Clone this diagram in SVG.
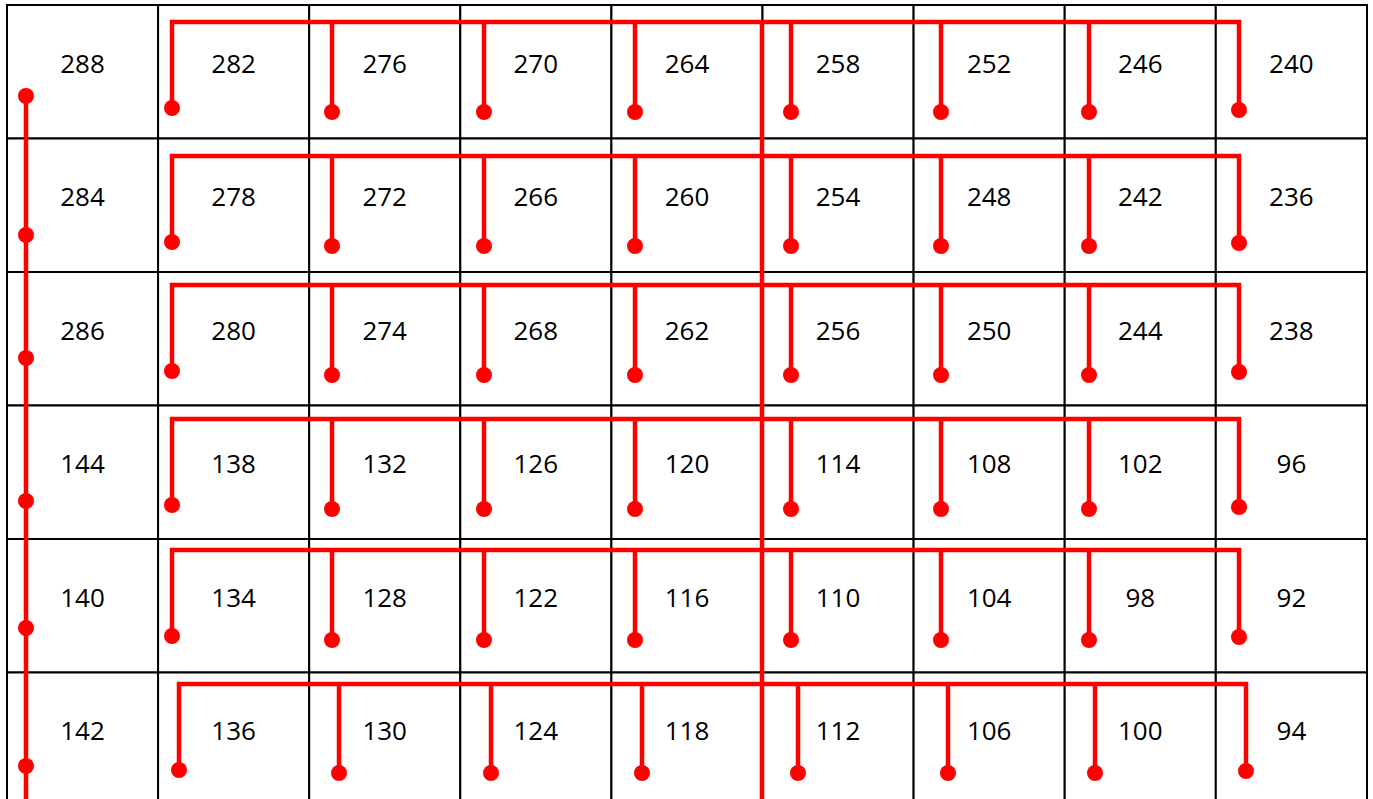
<svg xmlns="http://www.w3.org/2000/svg" width="1373" height="799" viewBox="0 0 1373 799">
<style>
.cell rect{fill:#fff;stroke:#000;stroke-width:2}
.cell text{font-family:"Open Sans","Liberation Sans",sans-serif;font-size:26px;fill:#000;text-anchor:middle}
.wire{fill:none;stroke:#ff0000;stroke-width:4.5;stroke-linejoin:miter}
.dot{fill:#ff0000}
</style>
<rect width="1373" height="799" fill="#fff"/>
<g id="grid">
<g id="c288" class="cell"><rect x="7" y="5" width="151.1" height="133.5"/><text x="82.5" y="72.5">288</text></g>
<g id="c282" class="cell"><rect x="158.1" y="5" width="151.1" height="133.5"/><text x="233.6" y="72.5">282</text></g>
<g id="c276" class="cell"><rect x="309.2" y="5" width="151.1" height="133.5"/><text x="384.7" y="72.5">276</text></g>
<g id="c270" class="cell"><rect x="460.3" y="5" width="151.1" height="133.5"/><text x="535.8" y="72.5">270</text></g>
<g id="c264" class="cell"><rect x="611.4" y="5" width="151.1" height="133.5"/><text x="687" y="72.5">264</text></g>
<g id="c258" class="cell"><rect x="762.5" y="5" width="151.1" height="133.5"/><text x="838" y="72.5">258</text></g>
<g id="c252" class="cell"><rect x="913.6" y="5" width="151.1" height="133.5"/><text x="989.2" y="72.5">252</text></g>
<g id="c246" class="cell"><rect x="1064.7" y="5" width="151.1" height="133.5"/><text x="1140.3" y="72.5">246</text></g>
<g id="c240" class="cell"><rect x="1215.8" y="5" width="151.2" height="133.5"/><text x="1291.4" y="72.5">240</text></g>

<g id="c284" class="cell"><rect x="7" y="138.5" width="151.1" height="133.5"/><text x="82.5" y="206">284</text></g>
<g id="c278" class="cell"><rect x="158.1" y="138.5" width="151.1" height="133.5"/><text x="233.6" y="206">278</text></g>
<g id="c272" class="cell"><rect x="309.2" y="138.5" width="151.1" height="133.5"/><text x="384.7" y="206">272</text></g>
<g id="c266" class="cell"><rect x="460.3" y="138.5" width="151.1" height="133.5"/><text x="535.8" y="206">266</text></g>
<g id="c260" class="cell"><rect x="611.4" y="138.5" width="151.1" height="133.5"/><text x="687" y="206">260</text></g>
<g id="c254" class="cell"><rect x="762.5" y="138.5" width="151.1" height="133.5"/><text x="838" y="206">254</text></g>
<g id="c248" class="cell"><rect x="913.6" y="138.5" width="151.1" height="133.5"/><text x="989.2" y="206">248</text></g>
<g id="c242" class="cell"><rect x="1064.7" y="138.5" width="151.1" height="133.5"/><text x="1140.3" y="206">242</text></g>
<g id="c236" class="cell"><rect x="1215.8" y="138.5" width="151.2" height="133.5"/><text x="1291.4" y="206">236</text></g>

<g id="c286" class="cell"><rect x="7" y="272" width="151.1" height="133.5"/><text x="82.5" y="339.5">286</text></g>
<g id="c280" class="cell"><rect x="158.1" y="272" width="151.1" height="133.5"/><text x="233.6" y="339.5">280</text></g>
<g id="c274" class="cell"><rect x="309.2" y="272" width="151.1" height="133.5"/><text x="384.7" y="339.5">274</text></g>
<g id="c268" class="cell"><rect x="460.3" y="272" width="151.1" height="133.5"/><text x="535.8" y="339.5">268</text></g>
<g id="c262" class="cell"><rect x="611.4" y="272" width="151.1" height="133.5"/><text x="687" y="339.5">262</text></g>
<g id="c256" class="cell"><rect x="762.5" y="272" width="151.1" height="133.5"/><text x="838" y="339.5">256</text></g>
<g id="c250" class="cell"><rect x="913.6" y="272" width="151.1" height="133.5"/><text x="989.2" y="339.5">250</text></g>
<g id="c244" class="cell"><rect x="1064.7" y="272" width="151.1" height="133.5"/><text x="1140.3" y="339.5">244</text></g>
<g id="c238" class="cell"><rect x="1215.8" y="272" width="151.2" height="133.5"/><text x="1291.4" y="339.5">238</text></g>

<g id="c144" class="cell"><rect x="7" y="405.5" width="151.1" height="133.5"/><text x="82.5" y="473">144</text></g>
<g id="c138" class="cell"><rect x="158.1" y="405.5" width="151.1" height="133.5"/><text x="233.6" y="473">138</text></g>
<g id="c132" class="cell"><rect x="309.2" y="405.5" width="151.1" height="133.5"/><text x="384.7" y="473">132</text></g>
<g id="c126" class="cell"><rect x="460.3" y="405.5" width="151.1" height="133.5"/><text x="535.8" y="473">126</text></g>
<g id="c120" class="cell"><rect x="611.4" y="405.5" width="151.1" height="133.5"/><text x="687" y="473">120</text></g>
<g id="c114" class="cell"><rect x="762.5" y="405.5" width="151.1" height="133.5"/><text x="838" y="473">114</text></g>
<g id="c108" class="cell"><rect x="913.6" y="405.5" width="151.1" height="133.5"/><text x="989.2" y="473">108</text></g>
<g id="c102" class="cell"><rect x="1064.7" y="405.5" width="151.1" height="133.5"/><text x="1140.3" y="473">102</text></g>
<g id="c96" class="cell"><rect x="1215.8" y="405.5" width="151.2" height="133.5"/><text x="1291.4" y="473">96</text></g>

<g id="c140" class="cell"><rect x="7" y="539" width="151.1" height="133.5"/><text x="82.5" y="606.5">140</text></g>
<g id="c134" class="cell"><rect x="158.1" y="539" width="151.1" height="133.5"/><text x="233.6" y="606.5">134</text></g>
<g id="c128" class="cell"><rect x="309.2" y="539" width="151.1" height="133.5"/><text x="384.7" y="606.5">128</text></g>
<g id="c122" class="cell"><rect x="460.3" y="539" width="151.1" height="133.5"/><text x="535.8" y="606.5">122</text></g>
<g id="c116" class="cell"><rect x="611.4" y="539" width="151.1" height="133.5"/><text x="687" y="606.5">116</text></g>
<g id="c110" class="cell"><rect x="762.5" y="539" width="151.1" height="133.5"/><text x="838" y="606.5">110</text></g>
<g id="c104" class="cell"><rect x="913.6" y="539" width="151.1" height="133.5"/><text x="989.2" y="606.5">104</text></g>
<g id="c98" class="cell"><rect x="1064.7" y="539" width="151.1" height="133.5"/><text x="1140.3" y="606.5">98</text></g>
<g id="c92" class="cell"><rect x="1215.8" y="539" width="151.2" height="133.5"/><text x="1291.4" y="606.5">92</text></g>

<g id="c142" class="cell"><rect x="7" y="672.5" width="151.1" height="133.5"/><text x="82.5" y="740">142</text></g>
<g id="c136" class="cell"><rect x="158.1" y="672.5" width="151.1" height="133.5"/><text x="233.6" y="740">136</text></g>
<g id="c130" class="cell"><rect x="309.2" y="672.5" width="151.1" height="133.5"/><text x="384.7" y="740">130</text></g>
<g id="c124" class="cell"><rect x="460.3" y="672.5" width="151.1" height="133.5"/><text x="535.8" y="740">124</text></g>
<g id="c118" class="cell"><rect x="611.4" y="672.5" width="151.1" height="133.5"/><text x="687" y="740">118</text></g>
<g id="c112" class="cell"><rect x="762.5" y="672.5" width="151.1" height="133.5"/><text x="838" y="740">112</text></g>
<g id="c106" class="cell"><rect x="913.6" y="672.5" width="151.1" height="133.5"/><text x="989.2" y="740">106</text></g>
<g id="c100" class="cell"><rect x="1064.7" y="672.5" width="151.1" height="133.5"/><text x="1140.3" y="740">100</text></g>
<g id="c94" class="cell"><rect x="1215.8" y="672.5" width="151.2" height="133.5"/><text x="1291.4" y="740">94</text></g>
</g>

<g id="connectors">
<path class="wire" d="M26 96V799"/>
<circle class="dot" cx="26" cy="96" r="8"/>
<circle class="dot" cx="26" cy="235" r="8"/>
<circle class="dot" cx="26" cy="358" r="8"/>
<circle class="dot" cx="26" cy="501" r="8"/>
<circle class="dot" cx="26" cy="628" r="8"/>
<circle class="dot" cx="26" cy="766" r="8"/>
<path class="wire" d="M762 22V799"/>
<path class="wire" d="M172 108V22H1239V110M332 22V112M484 22V112M635 22V112M791 22V112M941 22V112M1089 22V112"/>
<circle class="dot" cx="172" cy="108" r="8"/><circle class="dot" cx="332" cy="112" r="8"/><circle class="dot" cx="484" cy="112" r="8"/><circle class="dot" cx="635" cy="112" r="8"/><circle class="dot" cx="791" cy="112" r="8"/><circle class="dot" cx="941" cy="112" r="8"/><circle class="dot" cx="1089" cy="112" r="8"/><circle class="dot" cx="1239" cy="110" r="8"/>
<path class="wire" d="M172 242V156H1239V243M332 156V246M484 156V246M635 156V246M791 156V246M941 156V246M1089 156V246"/>
<circle class="dot" cx="172" cy="242" r="8"/><circle class="dot" cx="332" cy="246" r="8"/><circle class="dot" cx="484" cy="246" r="8"/><circle class="dot" cx="635" cy="246" r="8"/><circle class="dot" cx="791" cy="246" r="8"/><circle class="dot" cx="941" cy="246" r="8"/><circle class="dot" cx="1089" cy="246" r="8"/><circle class="dot" cx="1239" cy="243" r="8"/>
<path class="wire" d="M172 371V285H1239V372M332 285V375M484 285V375M635 285V375M791 285V375M941 285V375M1089 285V375"/>
<circle class="dot" cx="172" cy="371" r="8"/><circle class="dot" cx="332" cy="375" r="8"/><circle class="dot" cx="484" cy="375" r="8"/><circle class="dot" cx="635" cy="375" r="8"/><circle class="dot" cx="791" cy="375" r="8"/><circle class="dot" cx="941" cy="375" r="8"/><circle class="dot" cx="1089" cy="375" r="8"/><circle class="dot" cx="1239" cy="372" r="8"/>
<path class="wire" d="M172 505V419H1239V507M332 419V509M484 419V509M635 419V509M791 419V509M941 419V509M1089 419V509"/>
<circle class="dot" cx="172" cy="505" r="8"/><circle class="dot" cx="332" cy="509" r="8"/><circle class="dot" cx="484" cy="509" r="8"/><circle class="dot" cx="635" cy="509" r="8"/><circle class="dot" cx="791" cy="509" r="8"/><circle class="dot" cx="941" cy="509" r="8"/><circle class="dot" cx="1089" cy="509" r="8"/><circle class="dot" cx="1239" cy="507" r="8"/>
<path class="wire" d="M172 636V550H1239V637M332 550V640M484 550V640M635 550V640M791 550V640M941 550V640M1089 550V640"/>
<circle class="dot" cx="172" cy="636" r="8"/><circle class="dot" cx="332" cy="640" r="8"/><circle class="dot" cx="484" cy="640" r="8"/><circle class="dot" cx="635" cy="640" r="8"/><circle class="dot" cx="791" cy="640" r="8"/><circle class="dot" cx="941" cy="640" r="8"/><circle class="dot" cx="1089" cy="640" r="8"/><circle class="dot" cx="1239" cy="637" r="8"/>
<path class="wire" d="M179 770V684H1246V771M339 684V773M491 684V773M642 684V773M798 684V773M948 684V773M1095 684V773"/>
<circle class="dot" cx="179" cy="770" r="8"/><circle class="dot" cx="339" cy="773" r="8"/><circle class="dot" cx="491" cy="773" r="8"/><circle class="dot" cx="642" cy="773" r="8"/><circle class="dot" cx="798" cy="773" r="8"/><circle class="dot" cx="948" cy="773" r="8"/><circle class="dot" cx="1095" cy="773" r="8"/><circle class="dot" cx="1246" cy="771" r="8"/>
</g>
</svg>
